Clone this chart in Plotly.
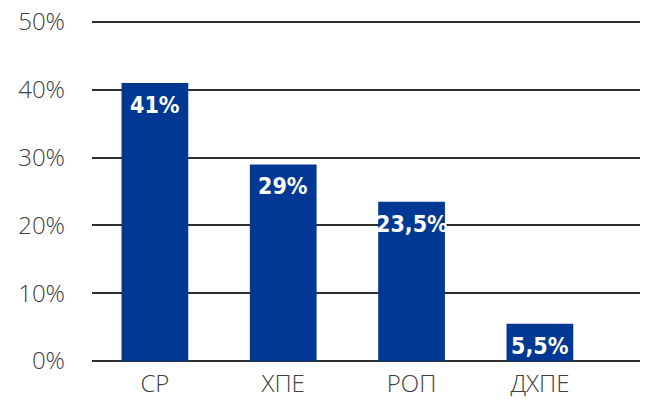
import plotly.graph_objects as go

categories = ["СР", "ХПЕ", "РОП", "ДХПЕ"]
values = [41, 29, 23.5, 5.5]
labels = ["41%", "29%", "23,5%", "5,5%"]
y_ticks = [0, 10, 20, 30, 40, 50]
y_tick_text = ["0%", "10%", "20%", "30%", "40%", "50%"]

fig = go.Figure()
fig.add_trace(go.Bar(
    x=categories, y=values, width=0.52,
    marker=dict(color="#003893", line=dict(width=0)),
    hoverinfo="skip",
))

for c, v, t in zip(categories, values, labels):
    fig.add_annotation(
        x=c, y=v, text=t, showarrow=False, yanchor="top", yshift=-8,
        borderpad=0,
        font=dict(family="DejaVu Sans Condensed, Liberation Sans Narrow, sans-serif", size=23, color="white", weight="bold"),
    )

fig.update_layout(
    width=668, height=401,
    margin=dict(l=92, r=28, t=20, b=40),
    plot_bgcolor="white", paper_bgcolor="white",
    showlegend=False,
    font=dict(family="Open Sans", size=24, color="#404040", weight=300),
    xaxis=dict(range=[-0.49, 3.78], showgrid=False, zeroline=False, showline=False,
               ticks="", automargin=False, ticklabelstandoff=6,
               tickfont=dict(size=24, color="#404040")),
    yaxis=dict(range=[0, 50.3], tickvals=y_ticks, ticktext=y_tick_text,
               showgrid=True, gridcolor="#2e2e2e", gridwidth=1.5,
               zeroline=True, zerolinecolor="#2e2e2e", zerolinewidth=1.5,
               showline=False, ticks="", ticklabelstandoff=26, automargin=False,
               tickfont=dict(size=24, color="#404040")),
)

fig.write_html("out.html", config={"displayModeBar": False},
               post_script="document.body.style.margin='0';document.body.style.padding='0';")
